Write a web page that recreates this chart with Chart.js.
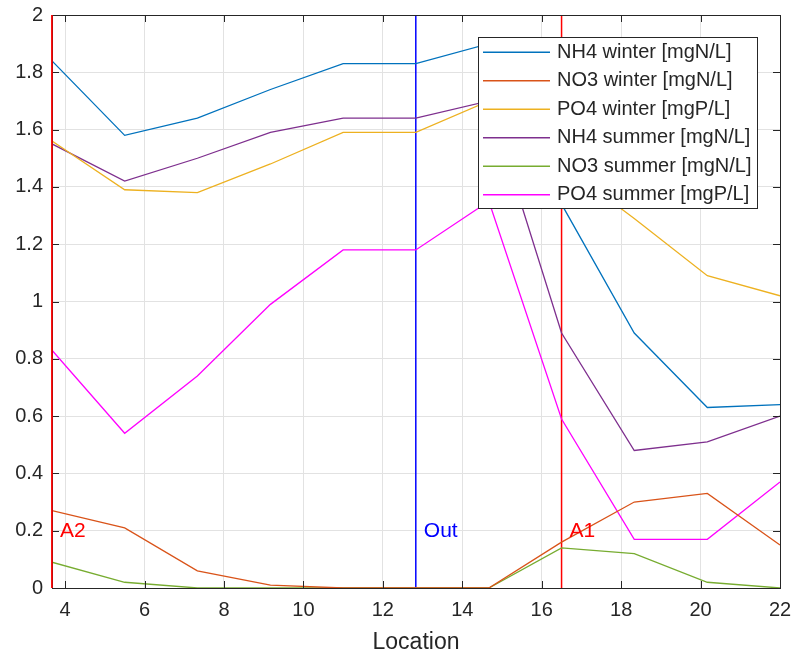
<!DOCTYPE html>
<html>
<head>
<meta charset="utf-8">
<script src="https://cdn.jsdelivr.net/npm/chart.js@4/dist/chart.umd.min.js"></script>
<style>
  body { margin: 0; background: #fff; }
</style>
</head>
<body>
<canvas id="myChart" width="794" height="657"></canvas>
<script>
const locations = [3.67, 5.5, 7.33, 9.17, 11, 12.83, 14.67, 16.5, 18.33, 20.17, 22]
const nh4Winter = [1.84, 1.58, 1.64, 1.74, 1.83, 1.83, 1.90, 1.34, 0.89, 0.63, 0.64]
const no3Winter = [0.27, 0.21, 0.06, 0.01, 0, 0, 0, 0.16, 0.30, 0.33, 0.15]
const po4Winter = [1.56, 1.39, 1.38, 1.48, 1.59, 1.59, 1.70, 1.48, 1.29, 1.09, 1.02]
const nh4Summer = [1.55, 1.42, 1.50, 1.59, 1.64, 1.64, 1.70, 0.89, 0.48, 0.51, 0.60]
const no3Summer = [0.09, 0.02, 0, 0, 0, 0, 0, 0.14, 0.12, 0.02, 0]
const po4Summer = [0.83, 0.54, 0.74, 0.99, 1.18, 1.18, 1.35, 0.59, 0.17, 0.17, 0.37]

const seriesNames = ['NH4 winter [mgN/L]', 'NO3 winter [mgN/L]', 'PO4 winter [mgP/L]',
                     'NH4 summer [mgN/L]', 'NO3 summer [mgN/L]', 'PO4 summer [mgP/L]']
const seriesColors = ['#0072BD', '#D95319', '#EDB120', '#7E2F8E', '#77AC30', '#FF00FF']

const markerNames = ['A2', 'Out', 'A1']
const markerLocs = [3.67, 12.83, 16.5]
const markerColors = ['#ff0000', '#0000ff', '#ff0000']

const xTicks = [4, 6, 8, 10, 12, 14, 16, 18, 20, 22]
const yTicks = [0, 0.2, 0.4, 0.6, 0.8, 1, 1.2, 1.4, 1.6, 1.8, 2]

const font = 'Liberation Sans, Arial, sans-serif'
const allSeries = [nh4Winter, no3Winter, po4Winter, nh4Summer, no3Summer, po4Summer]

let datasets = allSeries.map((vals, i) => ({
    label: seriesNames[i],
    data: vals.map((v, j) => ({x: locations[j], y: v})),
    borderColor: seriesColors[i],
    backgroundColor: seriesColors[i],
    borderWidth: 1.3,
    pointRadius: 0,
    tension: 0,
}))

markerLocs.forEach((loc, i) => {
    datasets.push({
        label: markerNames[i],
        data: [{x: loc, y: 0}, {x: loc, y: 2}],
        borderColor: markerColors[i],
        borderWidth: 1.5,
        pointRadius: 0,
        clip: false,
    })
})

const axesBox = {
    id: 'axesBox',
    afterDatasetsDraw(chart) {
        const c = chart.ctx, xs = chart.scales.x, ys = chart.scales.y
        c.save()
        c.font = '21px ' + font
        c.textBaseline = 'middle'
        markerLocs.forEach((loc, i) => {
            c.fillStyle = markerColors[i]
            c.fillText(markerNames[i], xs.getPixelForValue(loc) + 8, ys.getPixelForValue(0.2) + 1)
        })
        c.restore()
    },
    afterDraw(chart) {
        const c = chart.ctx, a = chart.chartArea, xs = chart.scales.x, ys = chart.scales.y
        c.save()
        c.strokeStyle = '#262626'
        c.lineWidth = 1
        c.beginPath()
        xTicks.forEach(v => {
            const px = Math.round(xs.getPixelForValue(v)) + 0.5
            c.moveTo(px, a.bottom); c.lineTo(px, a.bottom - 7)
            c.moveTo(px, a.top); c.lineTo(px, a.top + 7)
        })
        yTicks.forEach(v => {
            const py = Math.round(ys.getPixelForValue(v)) + 0.5
            c.moveTo(a.left, py); c.lineTo(a.left + 7, py)
            c.moveTo(a.right, py); c.lineTo(a.right - 7, py)
        })
        c.stroke()
        c.strokeRect(Math.round(a.left) + 0.5, Math.round(a.top) + 0.5, Math.round(a.right - a.left), Math.round(a.bottom - a.top))
        // red A2 line sits on the left border
        c.strokeStyle = markerColors[0]
        c.lineWidth = 1.5
        c.beginPath()
        c.moveTo(xs.getPixelForValue(markerLocs[0]), a.top)
        c.lineTo(xs.getPixelForValue(markerLocs[0]), a.bottom)
        c.stroke()

        // legend box
        const lx = 478, ly = 37, lw = 279, lh = 171, row = lh / 6
        c.fillStyle = '#fff'
        c.fillRect(lx, ly, lw, lh)
        c.strokeStyle = '#262626'
        c.lineWidth = 1
        c.strokeRect(lx + 0.5, ly + 0.5, lw, lh)
        c.font = '20px ' + font
        c.textBaseline = 'middle'
        seriesNames.forEach((name, i) => {
            const y = ly + row * (i + 0.5) + 1
            c.strokeStyle = seriesColors[i]
            c.lineWidth = 1.3
            c.beginPath()
            c.moveTo(lx + 5, y); c.lineTo(lx + 72, y)
            c.stroke()
            c.fillStyle = '#262626'
            c.fillText(name, lx + 79, y)
        })
        c.restore()
    }
}

let ctx = document.getElementById('myChart')

let myChart = new Chart(ctx, {
    type: 'line',
    data: { datasets: datasets },
    options: {
        responsive: false,
        animation: false,
        devicePixelRatio: 1,
        layout: { padding: { top: 15, right: 14, left: 0, bottom: 0 } },
        plugins: { legend: { display: false }, tooltip: { enabled: false } },
        scales: {
            x: {
                type: 'linear',
                min: 3.67,
                max: 22,
                afterBuildTicks: s => { s.ticks = xTicks.map(v => ({value: v})) },
                afterFit: s => { s.height = 69; s.paddingLeft = 0; s.paddingRight = 0 },
                grid: { color: '#e2e2e2', drawTicks: false },
                border: { display: false },
                ticks: { font: { family: font, size: 20 }, color: '#262626', padding: 10, maxRotation: 0, autoSkip: false },
                title: { display: true, text: 'Location', font: { family: font, size: 23 }, color: '#262626', padding: { top: 0, bottom: 1 } },
            },
            y: {
                min: 0,
                max: 2,
                afterBuildTicks: s => { s.ticks = yTicks.map(v => ({value: v})) },
                afterFit: s => { s.width = 52; s.paddingTop = 0; s.paddingBottom = 0 },
                grid: { color: '#e2e2e2', drawTicks: false },
                border: { display: false },
                ticks: { font: { family: font, size: 20 }, color: '#262626', padding: 9, callback: v => String(v) },
            }
        }
    },
    plugins: [axesBox]
})
</script>
</body>
</html>
